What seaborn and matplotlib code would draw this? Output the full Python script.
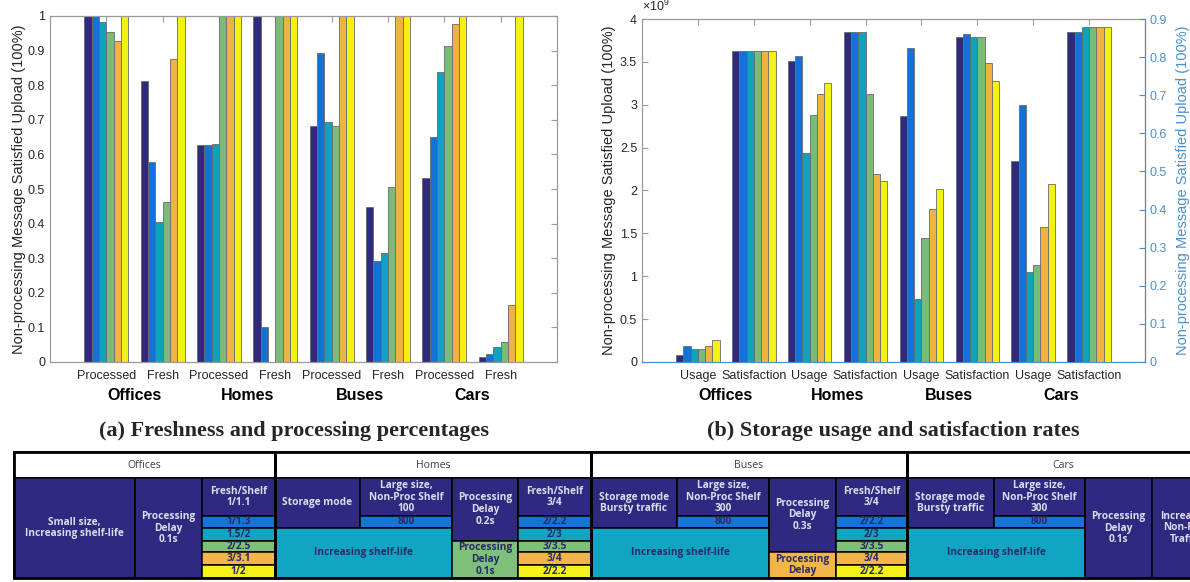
import numpy as np
import pandas as pd
import seaborn as sns
import matplotlib.pyplot as plt
from matplotlib.patches import Rectangle
from matplotlib.ticker import FuncFormatter

sns.set_style("white")
plt.rcParams['font.family'] = ['Liberation Sans', 'DejaVu Sans']
plt.rcParams['mathtext.fontset'] = 'custom'
plt.rcParams['mathtext.rm'] = 'Liberation Sans'

# ---- data ----
groups = ["Offices", "Homes", "Buses", "Cars"]
series = ["s1", "s2", "s3", "s4", "s5", "s6"]
colors = ["#2e2a7e", "#1272d8", "#0fa2be", "#79bc7a", "#eeb245", "#f5f212"]

# (a) freshness / processing, fraction
processed = [
    [1.0, 1.0, 0.982, 0.953, 0.928, 1.0],      # Offices
    [0.627, 0.628, 0.631, 1.0, 1.0, 1.0],      # Homes
    [0.683, 0.893, 0.695, 0.681, 1.0, 1.0],    # Buses
    [0.531, 0.650, 0.838, 0.914, 0.977, 1.0],  # Cars
]
fresh = [
    [0.811, 0.577, 0.404, 0.463, 0.876, 1.0],
    [1.0, 0.100, 0.0, 1.0, 1.0, 1.0],
    [0.448, 0.293, 0.314, 0.507, 1.0, 1.0],
    [0.015, 0.022, 0.042, 0.057, 0.164, 1.0],
]
# (b) storage usage (bytes, left axis) and satisfaction rate (right axis)
usage = [
    [0.078e9, 0.19e9, 0.151e9, 0.151e9, 0.19e9, 0.256e9],
    [3.507e9, 3.573e9, 2.435e9, 2.878e9, 3.122e9, 3.25e9],
    [2.87e9, 3.666e9, 0.734e9, 1.441e9, 1.79e9, 2.023e9],
    [2.342e9, 2.998e9, 1.052e9, 1.126e9, 1.573e9, 2.074e9],
]
satisfaction = [
    [0.816, 0.816, 0.816, 0.816, 0.816, 0.816],
    [0.865, 0.865, 0.865, 0.702, 0.493, 0.474],
    [0.854, 0.860, 0.854, 0.852, 0.784, 0.737],
    [0.865, 0.865, 0.878, 0.878, 0.878, 0.878],
]


def long_df(pairs, names):
    rows = []
    for g, grp in enumerate(groups):
        for vals, nm in zip(pairs, names):
            for s, v in zip(series, vals[g]):
                rows.append({"cat": grp + " " + nm, "series": s, "val": v})
    return pd.DataFrame(rows)


df_a = long_df([processed, fresh], ["Processed", "Fresh"])
cats_a = list(dict.fromkeys(df_a["cat"]))
df_u = long_df([usage], ["Usage"])
df_s = long_df([satisfaction], ["Satisfaction"])
cats_b = []
for grp in groups:
    cats_b += [grp + " Usage", grp + " Satisfaction"]

tick_color = "#262626"
right_color = "#4a90d0"
edge = "#6a6a6a"

fig = plt.figure(figsize=(11.9, 5.82), dpi=100)
W, H = 1190, 582


def px_axes(x0, y0, x1, y1):
    return fig.add_axes([x0 / W, 1 - y1 / H, (x1 - x0) / W, (y1 - y0) / H])


def style_ax(ax):
    for sp in ax.spines.values():
        sp.set_color("#9a9a9a")
        sp.set_linewidth(0.9)
    ax.tick_params(direction="in", length=4, color="#9a9a9a", labelcolor=tick_color,
                   labelsize=9, top=True, right=True)
    ax.tick_params(axis="x", pad=6)


bar_kw = dict(hue="series", palette=colors, width=0.78, saturation=1,
              edgecolor=edge, linewidth=0.6, legend=False)

# ---- (a) ----
ax1 = px_axes(50, 16, 557, 362)
sns.barplot(data=df_a, x="cat", y="val", order=cats_a, ax=ax1, **bar_kw)
ax1.set_xlim(-1, 8)
ax1.set_ylim(0, 1)
ax1.set_yticks(np.arange(0, 1.01, 0.1))
ax1.yaxis.set_major_formatter(FuncFormatter(lambda v, p: "%g" % round(v, 2)))
ax1.set_xticks(range(len(cats_a)))
ax1.set_xticklabels([c.split(" ")[1] for c in cats_a])
ax1.set_xlabel("")
ax1.set_ylabel("Non-processing Message Satisfied Upload (100%)", fontsize=10.5, color=tick_color, labelpad=1)
style_ax(ax1)
for g, grp in enumerate(groups):
    ax1.text(2 * g + 0.5, -0.098, grp, transform=ax1.get_xaxis_transform(), ha="center", va="center",
             fontsize=11.5, fontweight="bold", color="black")

# ---- (b) ----
ax2 = px_axes(642, 19, 1145, 362)
sns.barplot(data=df_u, x="cat", y="val", order=cats_b, ax=ax2, **bar_kw)
ax3 = ax2.twinx()
sns.barplot(data=df_s, x="cat", y="val", order=cats_b, ax=ax3, **bar_kw)
for a in (ax2, ax3):
    a.set_xlim(-1, 8)
ax2.set_ylim(0, 4e9)
ax3.set_ylim(0, 0.9)
ax2.set_yticks(np.arange(0, 4.01e9, 0.5e9))
ax2.yaxis.set_major_formatter(FuncFormatter(lambda v, p: "%g" % (v / 1e9)))
ax3.set_yticks(np.arange(0, 0.91, 0.1))
ax3.yaxis.set_major_formatter(FuncFormatter(lambda v, p: "%g" % round(v, 2)))
ax2.set_xticks(range(len(cats_b)))
ax2.set_xticklabels([c.split(" ")[1] for c in cats_b])
ax2.set_xlabel("")
ax3.set_xlabel("")
ax2.set_ylabel("Non-processing Message Satisfied Upload (100%)", fontsize=10.5, color=tick_color, labelpad=3)
ax3.set_ylabel("Non-processing Message Satisfied Upload (100%)", fontsize=10.5, color=right_color, labelpad=6)
style_ax(ax2)
ax2.tick_params(right=False)
for sp in ax3.spines.values():
    sp.set_visible(False)
ax3.spines["right"].set_visible(True)
ax3.spines["right"].set_color(right_color)
ax2.spines["bottom"].set_color(right_color)
ax3.tick_params(axis="y", direction="in", length=4, color=right_color, labelcolor=right_color, labelsize=9)
ax2.text(0.0, 1.015, r"$\times10^{9}$", transform=ax2.transAxes, ha="left", va="bottom",
         fontsize=9, color=tick_color)
for g, grp in enumerate(groups):
    ax2.text(2 * g + 0.5, -0.098, grp, transform=ax2.get_xaxis_transform(), ha="center", va="center",
             fontsize=11.5, fontweight="bold", color="black")

serif = ["Liberation Serif", "DejaVu Serif"]
fig.text(294 / W, 1 - 431 / H, "(a) Freshness and processing percentages", ha="center", va="center",
         fontsize=16, fontweight="bold", family=serif)
fig.text(893 / W, 1 - 431 / H, "(b) Storage usage and satisfaction rates", ha="center", va="center",
         fontsize=16, fontweight="bold", family=serif)

# ---- settings table ----
tb = fig.add_axes([0, 0, 1, 1], zorder=-1)
tb.set_xlim(0, W)
tb.set_ylim(H, 0)
tb.axis("off")

NAVY, BLUE, TEAL, GREEN, ORANGE, YELLOW = "#2f2a80", "#1774d6", "#12a5c3", "#7cc07a", "#f2b54a", "#f5f21c"
LIGHT = "#dcdcf0"
DARK = "#2a2a6a"
tfont = ["Open Sans", "DejaVu Sans"]

# x0, y0, x1, y1, fill, text
cells = []
header_y0, body_y0, body_y1 = 452, 478, 578
fs_rows = [(478, 516), (516, 528), (528, 541), (541, 552), (552, 565), (565, 578)]
fs_cols = [NAVY, BLUE, TEAL, GREEN, ORANGE, YELLOW]


def fresh_col(x0, x1, labels):
    for (y0, y1), c, t in zip(fs_rows, fs_cols, labels):
        cells.append((x0, y0, x1, y1, c, t))


sections = [("Offices", 14, 275), ("Homes", 275, 591), ("Buses", 591, 907), ("Cars", 907, 1220)]
for name, x0, x1 in sections:
    cells.append((x0, header_y0, x1, body_y0, "white", name))

# Offices
cells.append((14, 478, 135, 578, NAVY, "Small size,\nIncreasing shelf-life"))
cells.append((135, 478, 202, 578, NAVY, "Processing\nDelay\n0.1s"))
fresh_col(202, 275, ["Fresh/Shelf\n1/1.1", "1/1.3", "1.5/2", "2/2.5", "3/3.1", "1/2"])
# Homes
cells.append((275, 478, 360, 528, NAVY, "Storage mode"))
cells.append((360, 478, 452, 516, NAVY, "Large size,\nNon-Proc Shelf\n100"))
cells.append((360, 516, 452, 528, BLUE, "800"))
cells.append((275, 528, 452, 578, TEAL, "Increasing shelf-life"))
cells.append((452, 478, 518, 541, NAVY, "Processing\nDelay\n0.2s"))
cells.append((452, 541, 518, 578, GREEN, "Processing\nDelay\n0.1s"))
fresh_col(518, 591, ["Fresh/Shelf\n3/4", "2/2.2", "2/3", "3/3.5", "3/4", "2/2.2"])
# Buses
cells.append((591, 478, 677, 528, NAVY, "Storage mode\nBursty traffic"))
cells.append((677, 478, 769, 516, NAVY, "Large size,\nNon-Proc Shelf\n300"))
cells.append((677, 516, 769, 528, BLUE, "800"))
cells.append((591, 528, 769, 578, TEAL, "Increasing shelf-life"))
cells.append((769, 478, 836, 552, NAVY, "Processing\nDelay\n0.3s"))
cells.append((769, 552, 836, 578, ORANGE, "Processing\nDelay"))
fresh_col(836, 907, ["Fresh/Shelf\n3/4", "2/2.2", "2/3", "3/3.5", "3/4", "2/2.2"])
# Cars
cells.append((907, 478, 994, 528, NAVY, "Storage mode\nBursty traffic"))
cells.append((994, 478, 1085, 516, NAVY, "Large size,\nNon-Proc Shelf\n300"))
cells.append((994, 516, 1085, 528, BLUE, "800"))
cells.append((907, 528, 1085, 578, TEAL, "Increasing shelf-life"))
cells.append((1085, 478, 1152, 578, NAVY, "Processing\nDelay\n0.1s"))
cells.append((1152, 478, 1220, 578, NAVY, "Increasing\nNon-Proc\nTraffic"))

for x0, y0, x1, y1, fc, txt in cells:
    tb.add_patch(Rectangle((x0, y0), x1 - x0, y1 - y0, facecolor=fc, edgecolor="black", linewidth=1.1))
    tx = (x0 + x1) / 2
    ty = (y0 + y1) / 2
    if fc == "white":
        tb.text(tx, ty, txt, ha="center", va="center", fontsize=7.6, color="#404040", family=tfont)
        continue
    col = LIGHT if fc == NAVY else DARK
    tb.text(tx, ty, txt, ha="center", va="center", fontsize=7.3, fontweight="bold", color=col,
            linespacing=1.1, family=tfont)

# thick outline for sections
for name, x0, x1 in sections:
    tb.add_patch(Rectangle((x0, header_y0), x1 - x0, body_y1 - header_y0, facecolor="none",
                           edgecolor="black", linewidth=2.0))

fig.savefig("out.png", dpi=100)
